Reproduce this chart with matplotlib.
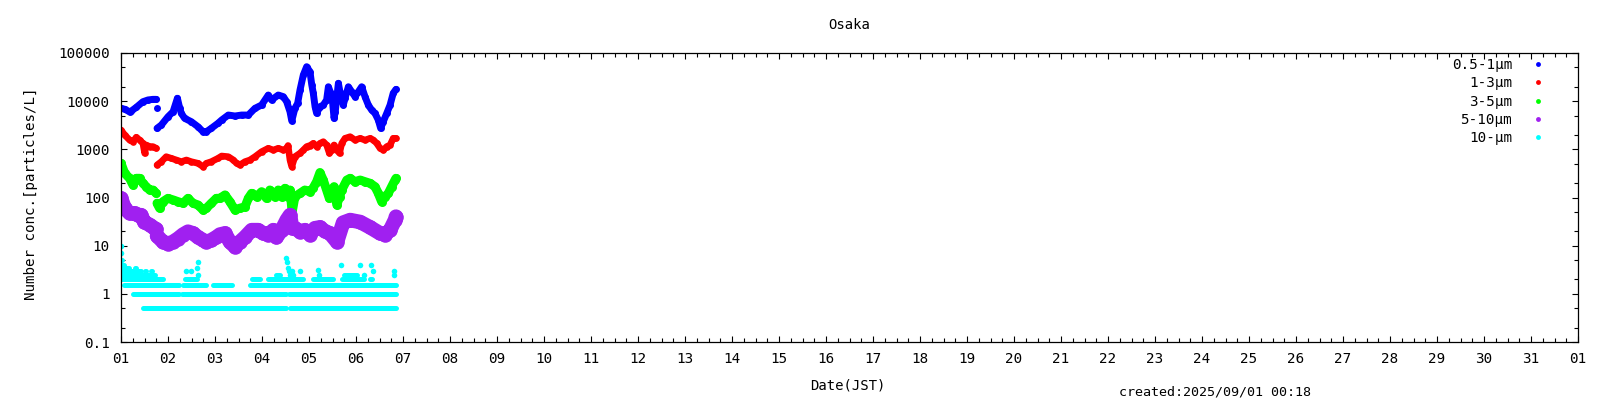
import numpy as np
import matplotlib
matplotlib.use("Agg")
import matplotlib.pyplot as plt
from matplotlib.lines import Line2D

plt.rcParams['font.family'] = ['DejaVu Sans Mono', 'Noto Sans CJK JP', 'DejaVu Sans']

NaN = float('nan')

station = "Osaka"
x_label = "Date(JST)"
y_label = "Number conc.[particles/L]"
created = "created:2025/09/01 00:18"
size_labels = ["0.5-1μm", "1-3μm", "3-5μm", "5-10μm", "10-μm"]
colors = ["#0000ff", "#ff0000", "#00ff00", "#a020f0", "#00ffff"]
day_labels = [f"{d:02d}" for d in range(1, 32)] + ["01"]
y_tick_values = [0.1, 1, 10, 100, 1000, 10000, 100000]
y_tick_labels = ["0.1", "1", "10", "100", "1000", "10000", "100000"]

# hours since 07/01 00:00 (JST); NaN marks a data gap
pm05_1_hours = [0, 1.9, 4.4, 5.3, 7.8, 11.2, 13.8, 16.3, 18.0, NaN, 18.2, NaN,
                18.4, 20.6, 24.0, 26.6, 28.8, 30.0, 30.8, 32.5, 35.9, 39.3, 41.9, 43.6,
                46.1, 49.5, 51.4, 54.8, 58.2, 61.6, 65.0, 68.4, 71.8, 75.2, 76.9, 80.3,
                82.9, 84.6, 86.3, 87.2, 88.8, 90.2, 91.4, 93.1, 94.8, 96.5, 97.4, 98.2,
                99.1, 99.9, 101.6, 103.3, 105.0, 105.9, 107.1, 108.1, 108.8, 109.4, 111.0,
                111.8, 112.7, 113.5, 114.4, 116.1, 117.8, 119.5, 121.2, 122.9, 124.6,
                126.3, 128.0, 129.7, 131.4, 132.6, 133.9, 135.7, 137.4, 139.0, 140.4]
pm05_1_values = [7100, 6800, 6000, 6250, 7450, 9750, 10600, 10900, 10900, NaN, 7100, NaN,
                 2730, 3200, 4750, 6040, 11500, 7100, 5600, 4400, 3750, 2950, 2320, 2320,
                 2730, 3470, 4060, 5150, 4920, 5150, 5150, 7100, 8320, 13400, 10600, 13400,
                 12400, 9750, 6040, 3900, 7100, 9020, 17000, 34900, 51900, 40800, 22000, 14600,
                 7670, 5600, 7670, 8320, 10600, 19900, 14600, 9020, 4400, 6040, 23500,
                 15700, 12400, 8320, 11500, 19900, 15700, 12400, 15700, 19900, 12400,
                 8320, 6540, 5600, 4060, 2730, 3750, 5600, 8320, 14600, 17600]

pm1_3_hours = [0, 1.9, 4.4, 6.1, 7.8, 9.5, 11.2, 12.1, 12.9, 14.6, 16.3, 18.0, NaN,
               18.4, 20.6, 23.1, 25.7, 28.3, 30.8, 33.4, 35.9, 39.3, 41.9, 43.6, 46.1,
               49.5, 51.4, 54.8, 57.4, 59.0, 60.7, 63.3, 65.8, 68.4, 71.8, 75.2, 77.8,
               80.3, 82.9, 84.6, 85.3, 86.3, 87.2, 88.8, 91.4, 93.1, 94.8, 96.5, 98.2,
               99.9, 101.6, 103.3, 105.0, 106.4, 107.6, 108.8, 110.2, 111.6, 112.7, 114.4,
               117.0, 119.5, 122.1, 124.6, 127.2, 128.9, 130.6, 132.3, 134.0, 135.7,
               137.4, 139.0, 140.4]
pm1_3_values = [2520, 1980, 1560, 1440, 1780, 1560, 1330, 830, 1230, 1140, 1140, 1050, NaN,
                473, 554, 703, 650, 600, 554, 600, 554, 513, 436, 513, 554,
                650, 726, 703, 600, 513, 473, 554, 600, 703, 893, 1050, 968,
                1050, 968, 1050, 1200, 600, 436, 703, 830, 968, 1140, 1200, 1330,
                1140, 1330, 1440, 1230, 830, 968, 1230, 968, 830, 1330, 1690,
                1830, 1560, 1690, 1560, 1690, 1560, 1330, 1050, 968, 1140,
                1230, 1690, 1690]

pm3_5_hours = [0, 1.9, 4.4, 6.1, 7.8, 9.5, 11.2, 12.9, 14.6, 16.3, 18.0, NaN,
               18.4, 19.7, 21.4, 24.0, 26.6, 29.1, 31.7, 34.2, 36.8, 39.3, 41.9, 43.6,
               46.1, 48.7, 50.5, 53.1, 55.6, 58.2, 60.7, 63.3, 65.0, 66.7, 69.2, 71.8,
               74.3, 76.0, 78.6, 80.3, 82.0, 83.7, 85.4, 86.3, 87.4, 88.8, 91.4, 93.9,
               96.5, 98.2, 99.9, 101.6, 103.3, 105.0, 106.4, 107.6, 108.8, 110.2, 111.6,
               112.7, 115.3, 117.0, 119.5, 122.1, 124.6, 127.2, 129.7, 131.4, 133.1,
               134.8, 136.5, 138.2, 139.9, 140.4]
pm3_5_values = [513, 318, 250, 182, 250, 250, 197, 168, 143, 143, 122, NaN,
                76, 60, 82, 96, 89, 82, 76, 96, 76, 70, 55, 60,
                76, 96, 96, 113, 82, 55, 60, 64, 96, 122, 104, 132,
                96, 143, 104, 143, 104, 155, 104, 143, 50, 104, 122, 143,
                132, 160, 213, 330, 230, 143, 96, 143, 168, 70, 104,
                143, 230, 250, 213, 230, 213, 197, 168, 122, 82,
                104, 122, 168, 230, 250]

pm5_10_hours = [0, 1.9, 4.4, 6.9, 8.6, 10.2, 11.9, 14.6, 17.1, 18.0, NaN,
                18.4, 21.4, 24.0, 26.6, 29.1, 31.7, 34.2, 36.8, 39.3, 41.9, 43.6, 46.1,
                48.7, 50.5, 53.1, 55.6, 58.2, 60.7, 63.3, 66.7, 70.1, 72.6, 75.2, 77.8,
                79.4, 82.0, 84.6, 86.3, 87.4, 88.8, 91.4, 93.9, 96.5, 99.0, 101.6, 104.0,
                106.7, 110.3, 113.4, 117.0, 122.1, 127.2, 132.3, 134.8, 137.4, 139.9, 140.4]
pm5_10_values = [96, 60, 47, 47, 43, 43, 31, 27, 23, 22, NaN,
                 16, 12, 11, 12, 14, 17, 19.5, 18, 15, 13, 12, 13,
                 15, 17, 18, 12, 9.5, 12, 15, 21, 21, 18, 17, 21,
                 15, 21, 34, 43, 23, 23, 19.5, 21, 17, 23, 24, 20,
                 18, 12, 30, 34, 31, 24, 18, 17, 21, 34, 40]

# 10- um counts are quantised: each level is present over these hour spans
pm10_levels = [0.5, 0.5, 0.5,
               1.0, 1.0, 1.0, 1.0,
               1.5, 1.5, 1.5, 1.5, 1.5,
               2.0, 2.0, 2.0, 2.0, 2.0, 2.0, 2.0, 2.0, 2.0, 2.0, 2.0, 2.0, 2.0,
               2.5, 2.5, 2.5,
               3.0, 3.0, 3.0,
               3.5, 3.5,
               4.0, 5.0]
pm10_start = [8.0, 11.1, 86.2,
              3.7, 6.3, 31.3, 86.0,
              1.5, 31.8, 47.0, 60.8, 66.0,
              0.3, 32.7, 49.5, 54.0, 57.3, 61.6, 66.7, 75.0, 98.0, 113.0, 127.0, 131.0, 140.2,
              0.0, 114.0, 79.0,
              0.0, 12.0, 15.5,
              0.0, 7.0,
              0.0, 0.0]
pm10_end = [8.0, 84.0, 140.3,
            3.7, 29.6, 84.5, 140.3,
            29.6, 43.5, 56.7, 60.8, 140.6,
            21.6, 38.8, 49.5, 54.0, 57.3, 61.6, 71.0, 93.0, 108.0, 124.0, 128.0, 131.0, 140.2,
            17.5, 120.5, 81.0,
            10.0, 13.0, 16.0,
            4.0, 7.5,
            1.5, 0.5]
pm10_dot_hours = [0.0, 0.2, 33.0, 35.6, 38.7, 39.5, 39.5, 84.5, 85.0, 85.5, 86.0, 86.5,
                  87.5, 88.0, 91.4, 100.4, 101.0, 112.3, 122.0, 124.0, 127.6, 128.5,
                  139.4, 139.4]
pm10_dot_values = [10, 7, 3.0, 3.0, 3.5, 4.5, 2.5, 5.5, 4.5, 3.5, 3.0, 2.5,
                   3.0, 2.5, 3.0, 3.2, 2.5, 4.0, 4.0, 2.5, 4.0, 3.0,
                   3.0, 2.5]


def to_day(hours):
    return 1.0 + np.asarray(hours, dtype=float) / 24.0


FS = 10.0

fig = plt.figure(figsize=(16, 4), dpi=100)
ax = fig.add_axes([121 / 1600, 58 / 400, 1457 / 1600, 289 / 400])

series = [(pm05_1_hours, pm05_1_values, 5.0),
          (pm1_3_hours, pm1_3_values, 4.8),
          (pm3_5_hours, pm3_5_values, 6.5),
          (pm5_10_hours, pm5_10_values, 10.5)]
for (hrs, vals, lw), col in zip(series, colors[:4]):
    ax.plot(to_day(hrs), vals, color=col, lw=lw, solid_capstyle='round',
            solid_joinstyle='round', marker='o', ms=lw, mew=0)

lc = ax.hlines(pm10_levels, to_day(pm10_start), to_day(pm10_end), colors=colors[4], lw=3.6)
lc.set_capstyle('round')
ax.plot(to_day(pm10_dot_hours), pm10_dot_values, 'o', color=colors[4], ms=4, mew=0)

ax.set_yscale('log')
ax.set_xlim(1, 32)
ax.set_ylim(0.1, 100000)
ax.set_xticks(range(1, 33))
ax.set_xticklabels(day_labels)
ax.set_xticks(np.arange(1, 32, 0.25), minor=True)
ax.set_yticks(y_tick_values)
ax.set_yticklabels(y_tick_labels)
ax.set_yticks([m * 10.0 ** e for e in range(-1, 5) for m in (2, 5)], minor=True)
ax.yaxis.set_minor_formatter(matplotlib.ticker.NullFormatter())
ax.tick_params(which='both', direction='in', top=True, right=True, width=0.8, labelsize=FS + 0.3)
ax.tick_params(which='major', length=4.5)
ax.tick_params(which='minor', length=3)
ax.tick_params(axis='y', pad=8)
ax.tick_params(axis='x', pad=7.5)
for sp in ax.spines.values():
    sp.set_linewidth(0.9)

handles = [Line2D([], [], color=c, marker='o', ls='none', ms=3.5, mew=0) for c in colors]
ax.legend(handles, size_labels, loc='upper right', bbox_to_anchor=(1545 / 1600, 1 - 58 / 400),
          bbox_transform=fig.transFigure, frameon=False, markerfirst=False,
          handlelength=1.0, handletextpad=1.3, labelspacing=0.3, fontsize=FS + 0.3,
          borderpad=0, borderaxespad=0)

fig.text(849.5 / 1600, 1 - 25 / 400, station, ha='center', va='center', fontsize=FS)
fig.text(30.6 / 1600, 1 - 194 / 400, y_label, ha='center', va='center', rotation=90, fontsize=FS + 0.2)
fig.text(848 / 1600, 1 - 385.7 / 400, x_label, ha='center', va='center', fontsize=FS)
fig.text(1119 / 1600, 1 - 391.8 / 400, created, ha='left', va='center', fontsize=FS - 0.4)

fig.savefig('out.png', dpi=100)
